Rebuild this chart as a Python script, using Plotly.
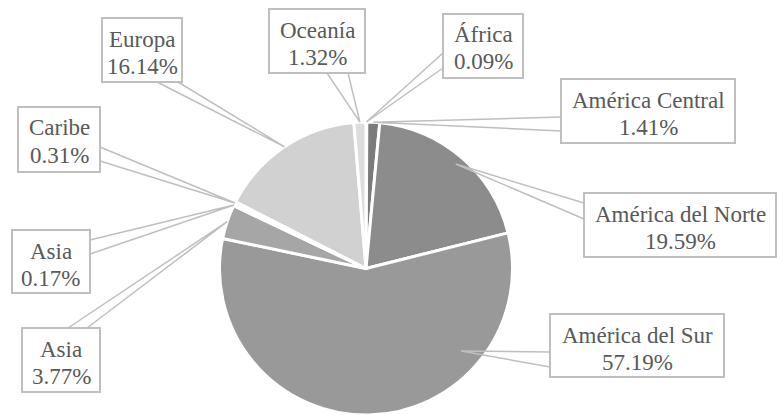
import math
import plotly.graph_objects as go

# ---- data ----
regions = ["África", "América Central", "América del Norte", "América del Sur",
           "Asia", "Asia", "Caribe", "Europa", "Oceanía"]
shares = [0.09, 1.41, 19.59, 57.19, 3.77, 0.17, 0.31, 16.14, 1.32]

# ---- style ----
slice_colors = ["#6f6f6f", "#7b7b7b", "#8c8c8c", "#999999", "#a6a6a6",
                "#b3b3b3", "#c0c0c0", "#d1d1d1", "#dddddd"]
W, H = 777, 415
CX, CY, R = 366.0, 268.5, 146.5
BORDER = "#bfbfbf"
TEXT = "#595959"
FONT = "Liberation Serif"

# label boxes in pixels: (left, top, right, bottom)
boxes = [
    (443, 14, 523, 78),
    (561, 79, 735, 143),
    (584, 193, 776, 257),
    (550, 314, 724, 377),
    (22, 328, 100, 392),
    (12, 230, 90, 293),
    (18, 107, 100, 172),
    (102, 18, 182, 82),
    (269, 9, 365, 73),
]
# wedge base points on the box edge (pixels)
bases = [
    ((443, 53), (443, 68)),
    ((561, 117), (561, 131)),
    ((584, 203), (584, 219)),
    ((550, 352), (550, 367)),
    ((68, 328), (87, 328)),
    ((90, 240), (90, 254)),
    ((100, 147), (100, 161)),
    ((157, 82), (178, 82)),
    ((327, 73), (348, 73)),
]
# tip: (fraction along slice, fraction of radius)
tips = [(0.5, 1.0), (0.5, 1.0), (0.5, 0.94), (0.267, 0.86), (0.5, 1.0),
        (0.5, 1.0), (0.5, 1.0), (0.5, 1.0), (0.5, 1.0)]


def px(x):
    return x / W


def py(y):
    return 1 - y / H


fig = go.Figure(go.Pie(
    values=shares,
    hovertext=regions,
    sort=False,
    direction="clockwise",
    rotation=0,
    textinfo="none",
    marker=dict(colors=slice_colors, line=dict(color="white", width=3)),
    domain=dict(x=[(CX - R) / W, (CX + R) / W], y=[1 - (CY + R) / H, 1 - (CY - R) / H]),
    showlegend=False,
))

total = sum(shares)
cum = 0.0
shapes = []
annotations = []
for i, v in enumerate(shares):
    start, end = cum / total, (cum + v) / total
    cum += v
    f, rf = tips[i]
    ang = 2 * math.pi * (start + f * (end - start))
    tx = CX + rf * R * math.sin(ang)
    ty = CY - rf * R * math.cos(ang)
    (b1x, b1y), (b2x, b2y) = bases[i]
    shapes.append(dict(
        type="path", xref="paper", yref="paper",
        path=f"M {px(b1x)} {py(b1y)} L {px(tx)} {py(ty)} L {px(b2x)} {py(b2y)}",
        line=dict(color=BORDER, width=1.5), layer="above"))

for i, v in enumerate(shares):
    l, t, r, b = boxes[i]
    shapes.append(dict(type="rect", xref="paper", yref="paper",
                       x0=px(l), x1=px(r), y0=py(b), y1=py(t),
                       line=dict(color=BORDER, width=2), fillcolor="white",
                       layer="above"))
    xc = px((l + r) / 2)
    for txt, off in ((regions[i], 21), (f"{v:.2f}%", 48)):
        annotations.append(dict(
            x=xc, y=py(t + off), xref="paper", yref="paper",
            text=txt, showarrow=False, xanchor="center", yanchor="middle",
            font=dict(family=FONT, size=23, color=TEXT)))

fig.update_layout(
    width=W, height=H,
    margin=dict(l=0, r=0, t=0, b=0),
    paper_bgcolor="white", plot_bgcolor="white",
    font=dict(family=FONT),
    shapes=shapes, annotations=annotations,
)

fig.write_html("out.html", config={"displayModeBar": False},
               post_script="document.body.style.margin='0';document.body.style.overflow='hidden';")
